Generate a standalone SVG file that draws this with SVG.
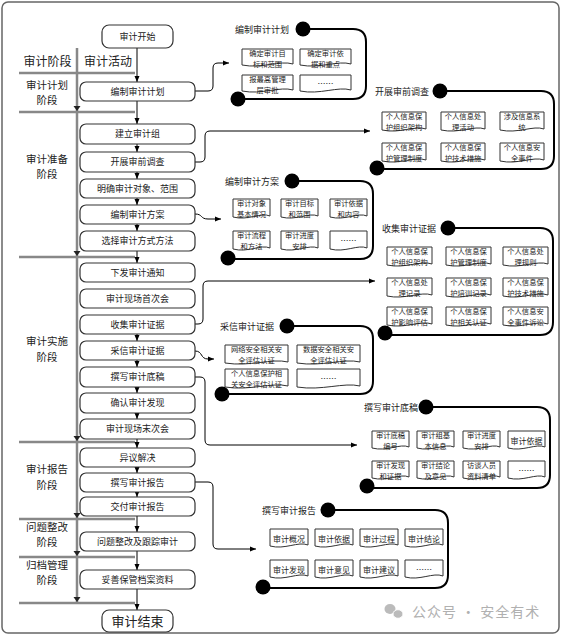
<svg xmlns="http://www.w3.org/2000/svg" xmlns:xlink="http://www.w3.org/1999/xlink" width="563" height="637" viewBox="0 0 563 637">
<style>
.t{font-family:"Noto Sans CJK SC","Noto Sans",sans-serif;fill:#222;text-anchor:middle}
.f9{font-size:9px}.f8{font-size:8px}.f7{font-size:7.3px}.f10{font-size:10.5px}.f12{font-size:12px}.f13{font-size:13px}
.box{fill:#fff;stroke:#333;stroke-width:1.2}
.doc{fill:#fff;stroke:#333;stroke-width:1}
.co{fill:none;stroke:#000;stroke-width:2}
.dot{fill:#000}
.conn{fill:none;stroke:#000;stroke-width:1;marker-end:url(#ah)}
.gl{stroke:#888;stroke-width:2.5;fill:none}
.lbl{font-family:"Noto Sans CJK SC","Noto Sans",sans-serif;fill:#222;font-size:9px}
</style>
<defs>
<marker id="ah" markerWidth="6" markerHeight="6" refX="6" refY="3" orient="auto" markerUnits="userSpaceOnUse"><path d="M0,0.5L6,3L0,5.5Z" fill="#000"/></marker>
<path id="tri" d="M-3.5,-5L3.5,-5L0,0Z" fill="#222"/>
<path id="d1" class="doc" d="M0,0H51V15C38,11 20,20 0,16Z"/>
<path id="d2" class="doc" d="M0,0H44V17C33,13 18,22 0,18Z"/>
<path id="d3" class="doc" d="M0,0H37V17C28,13 15,22 0,18Z"/>
<path id="d4" class="doc" d="M0,0H45V17C34,13 18,22 0,18Z"/>
<path id="d5" class="doc" d="M0,0H63V17C47,13 25,22 0,18Z"/>
<path id="d6" class="doc" d="M0,0H37V16C28,12 15,21 0,17Z"/>
<path id="d7" class="doc" d="M0,0H38V16C28,12 15,21 0,17Z"/>
</defs>
<rect x="2" y="2" width="557" height="631" rx="6" fill="#fff" stroke="#666" stroke-width="1.5"/>

<g id="phases">
<text class="t f12" x="47.5" y="65.5">审计阶段</text>
<text class="t f12" x="108" y="65.5">审计活动</text>
<line class="gl" x1="77" y1="48" x2="77" y2="603"/>
<line class="gl" x1="19" y1="73" x2="135" y2="73"/>
<line class="gl" x1="19" y1="112" x2="135" y2="112"/>
<line class="gl" x1="19" y1="257" x2="135" y2="257"/>
<line class="gl" x1="19" y1="442" x2="135" y2="442"/>
<line class="gl" x1="19" y1="519" x2="135" y2="519"/>
<line class="gl" x1="19" y1="557" x2="135" y2="557"/>
<line class="gl" x1="19" y1="603" x2="135" y2="603"/>
<use xlink:href="#tri" x="77" y="111"/>
<use xlink:href="#tri" x="77" y="256"/>
<use xlink:href="#tri" x="77" y="441"/>
<use xlink:href="#tri" x="77" y="518"/>
<use xlink:href="#tri" x="77" y="556"/>
<use xlink:href="#tri" x="77" y="602"/>
<text class="t f10" x="47" y="88.5">审计计划</text><text class="t f10" x="47" y="104">阶段</text>
<text class="t f10" x="47" y="162.5">审计准备</text><text class="t f10" x="47" y="178">阶段</text>
<text class="t f10" x="47" y="345">审计实施</text><text class="t f10" x="47" y="360.5">阶段</text>
<text class="t f10" x="47" y="473">审计报告</text><text class="t f10" x="47" y="488.5">阶段</text>
<text class="t f10" x="47" y="530.5">问题整改</text><text class="t f10" x="47" y="546">阶段</text>
<text class="t f10" x="47" y="568.5">归档管理</text><text class="t f10" x="47" y="584">阶段</text>
</g>

<g id="connectors">
<line class="conn" x1="137" y1="48" x2="137" y2="82"/>
<line class="conn" x1="137" y1="101" x2="137" y2="124"/>
<line class="conn" x1="137" y1="144" x2="137" y2="152"/>
<line class="conn" x1="137" y1="172" x2="137" y2="179"/>
<line class="conn" x1="137" y1="198" x2="137" y2="205"/>
<line class="conn" x1="137" y1="224" x2="137" y2="231"/>
<line class="conn" x1="137" y1="251" x2="137" y2="263"/>
<line class="conn" x1="137" y1="334" x2="137" y2="341"/>
<line class="conn" x1="137" y1="360" x2="137" y2="367"/>
<line class="conn" x1="137" y1="387" x2="137" y2="393"/>
<line class="conn" x1="137" y1="413" x2="137" y2="419"/>
<line class="conn" x1="137" y1="439" x2="137" y2="448"/>
<line class="conn" x1="137" y1="467" x2="137" y2="473"/>
<line class="conn" x1="137" y1="492" x2="137" y2="497"/>
<line class="conn" x1="137" y1="516" x2="137" y2="532"/>
<line class="conn" x1="137" y1="551" x2="137" y2="570"/>
<line class="conn" x1="137" y1="589" x2="137" y2="610"/>
<path class="conn" d="M195,91H208Q213,91 213,86V68Q213,63 218,63H229"/>
<path class="conn" d="M195,162H200Q205,162 205,157V136Q205,131 210,131H370"/>
<path class="conn" d="M195,214C203,214 200,219 208,219H221"/>
<path class="conn" d="M195,324H198Q203,324 203,319V286Q203,281 208,281H375"/>
<path class="conn" d="M195,351C203,351 200,359 208,359H214"/>
<path class="conn" d="M195,377H200Q205,377 205,382V440Q205,445 210,445H357"/>
<path class="conn" d="M195,482H208Q213,482 213,487V544Q213,549 218,549H256"/>
</g>

<g id="start"><rect class="box" x="102" y="25" width="71" height="23" rx="7"/><text class="t f9" x="137.5" y="40">审计开始</text></g>
<g id="n1"><rect class="box" x="80" y="82" width="115" height="19" rx="6"/><text class="t f9" x="137.5" y="94.5">编制审计计划</text></g>
<g id="n2"><rect class="box" x="80" y="124" width="115" height="20" rx="6"/><text class="t f9" x="137.5" y="137">建立审计组</text></g>
<g id="n3"><rect class="box" x="80" y="152" width="115" height="20" rx="6"/><text class="t f9" x="137.5" y="165">开展审前调查</text></g>
<g id="n4"><rect class="box" x="80" y="179" width="115" height="19" rx="6"/><text class="t f9" x="137.5" y="191.5">明确审计对象、范围</text></g>
<g id="n5"><rect class="box" x="80" y="205" width="115" height="19" rx="6"/><text class="t f9" x="137.5" y="217.5">编制审计方案</text></g>
<g id="n6"><rect class="box" x="80" y="231" width="115" height="20" rx="6"/><text class="t f9" x="137.5" y="244">选择审计方式方法</text></g>
<g id="n7"><rect class="box" x="80" y="263" width="115" height="19" rx="6"/><text class="t f9" x="137.5" y="275.5">下发审计通知</text></g>
<g id="n8"><rect class="box" x="80" y="289" width="115" height="19" rx="6"/><text class="t f9" x="137.5" y="301.5">审计现场首次会</text></g>
<g id="n9"><rect class="box" x="80" y="315" width="115" height="19" rx="6"/><text class="t f9" x="137.5" y="327.5">收集审计证据</text></g>
<g id="n10"><rect class="box" x="80" y="341" width="115" height="19" rx="6"/><text class="t f9" x="137.5" y="353.5">采信审计证据</text></g>
<g id="n11"><rect class="box" x="80" y="367" width="115" height="20" rx="6"/><text class="t f9" x="137.5" y="380">撰写审计底稿</text></g>
<g id="n12"><rect class="box" x="80" y="393" width="115" height="20" rx="6"/><text class="t f9" x="137.5" y="406">确认审计发现</text></g>
<g id="n13"><rect class="box" x="80" y="419" width="115" height="20" rx="6"/><text class="t f9" x="137.5" y="432">审计现场末次会</text></g>
<g id="n14"><rect class="box" x="80" y="448" width="115" height="19" rx="6"/><text class="t f9" x="137.5" y="460.5">异议解决</text></g>
<g id="n15"><rect class="box" x="80" y="473" width="115" height="19" rx="6"/><text class="t f9" x="137.5" y="485.5">撰写审计报告</text></g>
<g id="n16"><rect class="box" x="80" y="497" width="115" height="19" rx="6"/><text class="t f9" x="137.5" y="509.5">交付审计报告</text></g>
<g id="n17"><rect class="box" x="80" y="532" width="115" height="19" rx="6"/><text class="t f9" x="137.5" y="544.5">问题整改及跟踪审计</text></g>
<g id="n18"><rect class="box" x="80" y="570" width="115" height="19" rx="6"/><text class="t f9" x="137.5" y="582.5">妥善保管档案资料</text></g>
<g id="end"><rect class="box" x="102" y="610" width="71" height="22" rx="7"/><text class="t f13" x="137.5" y="626">审计结束</text></g>

<g id="c1">
<path class="co" d="M303,29H353Q366,29 366,42V86Q366,99 353,99H238"/>
<circle class="dot" cx="303" cy="29" r="7.5"/><circle class="dot" cx="238" cy="99" r="7.5"/>
<text class="lbl" x="235" y="32.5">编制审计计划</text>
<use xlink:href="#d1" x="242" y="49"/><use xlink:href="#d1" x="300" y="49"/><use xlink:href="#d1" x="242" y="75"/><use xlink:href="#d1" x="300" y="75"/>
<text class="t f7"><tspan x="267.5" y="56.2">确定审计目</tspan><tspan x="267.5" y="66.9">标和范围</tspan><tspan x="325.5" y="56.2">确定审计依</tspan><tspan x="325.5" y="66.9">据和重点</tspan><tspan x="267.5" y="82.2">报最高管理</tspan><tspan x="267.5" y="92.9">层审批</tspan></text>
<text class="t f8" x="325.5" y="87">……</text>
</g>

<g id="c2">
<path class="co" d="M440,91H541Q554,91 554,104V156Q554,169 541,169H377"/>
<circle class="dot" cx="440" cy="91" r="7.5"/><circle class="dot" cx="377" cy="168" r="7.5"/>
<text class="lbl" x="375" y="94.5">开展审前调查</text>
<use xlink:href="#d2" x="382" y="112"/><use xlink:href="#d2" x="441" y="112"/><use xlink:href="#d2" x="500" y="112"/>
<use xlink:href="#d2" x="382" y="143"/><use xlink:href="#d2" x="441" y="143"/><use xlink:href="#d2" x="500" y="143"/>
<text class="t f7"><tspan x="404" y="119.3">个人信息保</tspan><tspan x="404" y="130">护组织架构</tspan><tspan x="463" y="119.3">个人信息处</tspan><tspan x="463" y="130">理活动</tspan><tspan x="522" y="119.3">涉及信息系</tspan><tspan x="522" y="130">统</tspan><tspan x="404" y="150.3">个人信息保</tspan><tspan x="404" y="161">护管理制度</tspan><tspan x="463" y="150.3">个人信息保</tspan><tspan x="463" y="161">护技术措施</tspan><tspan x="522" y="150.3">个人信息安</tspan><tspan x="522" y="161">全事件</tspan></text>
</g>

<g id="c3">
<path class="co" d="M292,181H360Q373,181 373,194V246Q373,259 360,259H228"/>
<circle class="dot" cx="292" cy="181" r="7.5"/><circle class="dot" cx="228" cy="258" r="7.5"/>
<text class="lbl" x="225" y="184.5">编制审计方案</text>
<use xlink:href="#d3" x="233" y="199"/><use xlink:href="#d3" x="281" y="199"/><use xlink:href="#d3" x="330" y="199"/>
<use xlink:href="#d3" x="233" y="231"/><use xlink:href="#d3" x="281" y="231"/><use xlink:href="#d3" x="330" y="231"/>
<text class="t f7"><tspan x="251.5" y="206.3">审计对象</tspan><tspan x="251.5" y="217">基本情况</tspan><tspan x="299.5" y="206.3">审计目标</tspan><tspan x="299.5" y="217">和范围</tspan><tspan x="348.5" y="206.3">审计依据</tspan><tspan x="348.5" y="217">和内容</tspan><tspan x="251.5" y="238.3">审计流程</tspan><tspan x="251.5" y="249">和方法</tspan><tspan x="299.5" y="238.3">审计进度</tspan><tspan x="299.5" y="249">安排</tspan></text>
<text class="t f8" x="348.5" y="244">……</text>
</g>

<g id="c4">
<path class="co" d="M448,228H540Q553,228 553,241V322Q553,335 540,335H385"/>
<circle class="dot" cx="448" cy="228" r="7.5"/><circle class="dot" cx="385" cy="333" r="7.5"/>
<text class="lbl" x="382" y="231.5">收集审计证据</text>
<use xlink:href="#d4" x="387" y="247"/><use xlink:href="#d4" x="446" y="247"/><use xlink:href="#d4" x="503" y="247"/>
<use xlink:href="#d4" x="387" y="278"/><use xlink:href="#d4" x="446" y="278"/><use xlink:href="#d4" x="503" y="278"/>
<use xlink:href="#d4" x="387" y="307"/><use xlink:href="#d4" x="446" y="307"/><use xlink:href="#d4" x="503" y="307"/>
<text class="t f7"><tspan x="409.5" y="254.3">个人信息保</tspan><tspan x="409.5" y="265">护组织架构</tspan><tspan x="468.5" y="254.3">个人信息保</tspan><tspan x="468.5" y="265">护管理制度</tspan><tspan x="525.5" y="254.3">个人信息处</tspan><tspan x="525.5" y="265">理规则</tspan><tspan x="409.5" y="285.3">个人信息处</tspan><tspan x="409.5" y="296">理记录</tspan><tspan x="468.5" y="285.3">个人信息保</tspan><tspan x="468.5" y="296">护培训记录</tspan><tspan x="525.5" y="285.3">个人信息保</tspan><tspan x="525.5" y="296">护技术措施</tspan><tspan x="409.5" y="314.3">个人信息保</tspan><tspan x="409.5" y="325">护影响评估</tspan><tspan x="468.5" y="314.3">个人信息保</tspan><tspan x="468.5" y="325">护相关认证</tspan><tspan x="525.5" y="314.3">个人信息安</tspan><tspan x="525.5" y="325">全事件诉讼</tspan></text>
</g>

<g id="c5">
<path class="co" d="M287,326H360Q373,326 373,339V381Q373,394 360,394H222"/>
<circle class="dot" cx="287" cy="326" r="7.5"/><circle class="dot" cx="222" cy="394" r="7.5"/>
<text class="lbl" x="220" y="329.5">采信审计证据</text>
<use xlink:href="#d5" x="225" y="345"/><use xlink:href="#d5" x="297" y="345"/>
<use xlink:href="#d5" x="225" y="369"/><use xlink:href="#d5" x="297" y="369"/>
<text class="t f7"><tspan x="256.5" y="352.3">网络安全相关安</tspan><tspan x="256.5" y="363">全评估认证</tspan><tspan x="328.5" y="352.3">数据安全相关安</tspan><tspan x="328.5" y="363">全评估认证</tspan><tspan x="256.5" y="376.3">个人信息保护相</tspan><tspan x="256.5" y="387">关安全评估认证</tspan></text>
<text class="t f8" x="328.5" y="382">……</text>
</g>

<g id="c6">
<path class="co" d="M426,407H537Q550,407 550,420V475Q550,488 537,488H367"/>
<circle class="dot" cx="426" cy="407" r="7.5"/><circle class="dot" cx="367" cy="486" r="7.5"/>
<text class="lbl" x="364" y="410.5">撰写审计底稿</text>
<use xlink:href="#d6" x="372" y="431"/><use xlink:href="#d6" x="417" y="431"/><use xlink:href="#d6" x="463" y="431"/><use xlink:href="#d6" x="508" y="431"/>
<use xlink:href="#d6" x="372" y="461"/><use xlink:href="#d6" x="417" y="461"/><use xlink:href="#d6" x="463" y="461"/><use xlink:href="#d6" x="508" y="461"/>
<text class="t f7"><tspan x="390.5" y="438">审计底稿</tspan><tspan x="390.5" y="448.7">编号</tspan><tspan x="435.5" y="438">审计组基</tspan><tspan x="435.5" y="448.7">本信息</tspan><tspan x="481.5" y="438">审计进度</tspan><tspan x="481.5" y="448.7">安排</tspan><tspan x="390.5" y="468">审计发现</tspan><tspan x="390.5" y="478.7">和证据</tspan><tspan x="435.5" y="468">审计结论</tspan><tspan x="435.5" y="478.7">及意见</tspan><tspan x="481.5" y="468">访谈人员</tspan><tspan x="481.5" y="478.7">资料清单</tspan></text>
<text class="t f8" x="526.5" y="444">审计依据</text>
<text class="t f8" x="526.5" y="474">……</text>
</g>

<g id="c7">
<path class="co" d="M328,510H435Q448,510 448,523V575Q448,588 435,588H263"/>
<circle class="dot" cx="328" cy="510" r="7.5"/><circle class="dot" cx="263" cy="587" r="7.5"/>
<text class="lbl" x="262" y="513.5">撰写审计报告</text>
<use xlink:href="#d7" x="270" y="529"/><use xlink:href="#d7" x="315" y="529"/><use xlink:href="#d7" x="360" y="529"/><use xlink:href="#d7" x="405" y="529"/>
<use xlink:href="#d7" x="270" y="560"/><use xlink:href="#d7" x="315" y="560"/><use xlink:href="#d7" x="360" y="560"/><use xlink:href="#d7" x="405" y="560"/>
<text class="t f8"><tspan x="289" y="542">审计概况</tspan><tspan x="334" y="542">审计依据</tspan><tspan x="379" y="542">审计过程</tspan><tspan x="424" y="542">审计结论</tspan><tspan x="289" y="573">审计发现</tspan><tspan x="334" y="573">审计意见</tspan><tspan x="379" y="573">审计建议</tspan><tspan x="424" y="573">……</tspan></text>
</g>

<g id="watermark">
<ellipse cx="390" cy="609" rx="5.5" ry="5" fill="#bbb"/>
<ellipse cx="398" cy="614" rx="5" ry="4.3" fill="#bbb" stroke="#fff" stroke-width="1"/>
<text x="412" y="617" font-family="'Noto Sans CJK SC',sans-serif" font-size="14" letter-spacing="1" fill="#b0b0b0">公众号 · 安全有术</text>
</g>
</svg>
